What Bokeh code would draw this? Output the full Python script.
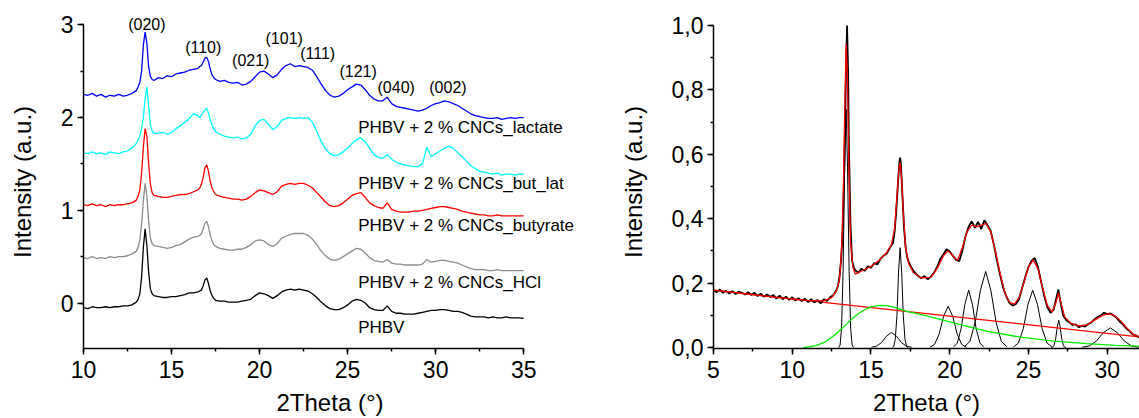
from bokeh.plotting import figure
from bokeh.models import (Range1d, SingleIntervalTicker, CustomJSTickFormatter,
                          ColumnDataSource, LabelSet)
from bokeh.layouts import row
from bokeh.embed import file_html
from bokeh.resources import INLINE
from bokeh.core.properties import value

FONT = "Liberation Sans"

# ---------------- left panel data ----------------
two_theta = [10.0, 10.25, 10.5, 10.75, 11.0, 11.25, 11.5, 11.75, 12.0, 12.25, 12.5, 12.75, 13.0,
             13.1, 13.2, 13.3, 13.4, 13.5, 13.6, 13.7, 13.8, 13.9, 14.0,
             14.25, 14.5, 14.75, 15.0, 15.25, 15.5, 15.75, 16.0, 16.25, 16.5,
             16.6, 16.7, 16.8, 16.9, 17.0, 17.1, 17.2, 17.3, 17.4, 17.5,
             17.75, 18.0, 18.25, 18.5, 18.75, 19.0, 19.25, 19.5, 19.75, 20.0,
             20.25, 20.5, 20.75, 21.0, 21.25, 21.5, 21.75, 22.0, 22.25, 22.5,
             22.75, 23.0, 23.25, 23.5, 23.75, 24.0, 24.25, 24.5, 24.75, 25.0,
             25.25, 25.5, 25.75, 26.0, 26.25, 26.5, 26.75, 27.0, 27.25, 27.5,
             27.75, 28.0, 28.25, 28.5, 28.75, 29.0, 29.25, 29.5, 29.75, 30.0,
             30.25, 30.5, 30.75, 31.0, 31.25, 31.5, 31.75, 32.0, 32.25, 32.5,
             32.75, 33.0, 33.25, 33.5, 33.75, 34.0, 34.25, 34.5, 34.75, 35.0]

lactate = [2.25, 2.24, 2.26, 2.23, 2.25, 2.22, 2.24, 2.23, 2.25, 2.23, 2.24, 2.26, 2.29,
           2.33, 2.38, 2.50, 2.78, 2.92, 2.80, 2.55, 2.44, 2.41, 2.40,
           2.43, 2.42, 2.45, 2.44, 2.47, 2.48, 2.49, 2.51, 2.52, 2.53,
           2.55, 2.56, 2.60, 2.64, 2.65, 2.60, 2.52, 2.46, 2.43, 2.41,
           2.39, 2.40, 2.38, 2.37, 2.38, 2.35, 2.36, 2.39, 2.44, 2.49,
           2.50, 2.47, 2.43, 2.46, 2.52, 2.56, 2.58, 2.55, 2.56, 2.55,
           2.54, 2.51, 2.44, 2.36, 2.29, 2.24, 2.22, 2.23, 2.26, 2.30,
           2.33, 2.36, 2.35, 2.30, 2.24, 2.20, 2.18, 2.18, 2.22, 2.15,
           2.12, 2.11, 2.10, 2.09, 2.08, 2.07, 2.08, 2.10, 2.13, 2.15,
           2.16, 2.18, 2.17, 2.15, 2.13, 2.10, 2.07, 2.04, 2.02, 2.01,
           2.00, 1.99, 1.99, 2.00, 1.98, 1.99, 2.00, 1.99, 2.00, 2.00]

but_lat = [1.62, 1.61, 1.63, 1.61, 1.62, 1.60, 1.63, 1.62, 1.61, 1.63, 1.64, 1.67, 1.72,
           1.76, 1.80, 1.88, 2.00, 2.20, 2.33, 2.12, 1.92, 1.85, 1.83,
           1.83, 1.84, 1.82, 1.84, 1.88, 1.91, 1.95, 1.99, 2.04, 2.02,
           2.00, 2.03, 2.06, 2.08, 2.10, 2.05, 1.97, 1.92, 1.88, 1.85,
           1.82, 1.80, 1.79, 1.78, 1.79, 1.77, 1.78, 1.82, 1.91, 1.97,
           1.98, 1.93, 1.87, 1.90, 1.97, 1.99, 2.00, 1.99, 2.00, 1.99,
           2.00, 1.95, 1.85, 1.74, 1.66, 1.61, 1.59, 1.60, 1.63, 1.67,
           1.72, 1.76, 1.78, 1.74, 1.67, 1.60, 1.57, 1.56, 1.60, 1.55,
           1.52, 1.50, 1.49, 1.48, 1.47, 1.47, 1.50, 1.68, 1.58, 1.61,
           1.64, 1.67, 1.69, 1.67, 1.62, 1.58, 1.53, 1.48, 1.45, 1.42,
           1.41, 1.40, 1.39, 1.40, 1.38, 1.39, 1.39, 1.38, 1.39, 1.39]

butyrate = [1.06, 1.05, 1.07, 1.05, 1.06, 1.04, 1.06, 1.05, 1.06, 1.06, 1.07, 1.08, 1.11,
            1.15, 1.22, 1.40, 1.68, 1.88, 1.80, 1.50, 1.28, 1.19, 1.16,
            1.15, 1.14, 1.14, 1.15, 1.16, 1.17, 1.17, 1.18, 1.20, 1.22,
            1.24, 1.28, 1.36, 1.46, 1.49, 1.42, 1.31, 1.24, 1.20, 1.17,
            1.15, 1.14, 1.13, 1.12, 1.12, 1.11, 1.12, 1.15, 1.19, 1.22,
            1.21, 1.19, 1.17, 1.20, 1.26, 1.28, 1.29, 1.28, 1.29, 1.29,
            1.27, 1.24, 1.19, 1.14, 1.09, 1.05, 1.04, 1.05, 1.08, 1.12,
            1.16, 1.18, 1.19, 1.14, 1.08, 1.05, 1.03, 1.02, 1.08, 1.01,
            0.99, 0.98, 0.98, 0.98, 0.99, 0.99, 1.00, 1.01, 1.02, 1.03,
            1.04, 1.04, 1.03, 1.02, 1.01, 0.99, 0.98, 0.97, 0.96, 0.95,
            0.95, 0.94, 0.94, 0.95, 0.94, 0.94, 0.94, 0.94, 0.94, 0.94]

hcl = [0.49, 0.48, 0.50, 0.48, 0.49, 0.48, 0.50, 0.49, 0.50, 0.50, 0.51, 0.53, 0.56,
       0.60, 0.68, 0.85, 1.10, 1.29, 1.15, 0.88, 0.70, 0.64, 0.62,
       0.61, 0.60, 0.59, 0.60, 0.62, 0.63, 0.66, 0.69, 0.71, 0.72,
       0.73, 0.75, 0.80, 0.86, 0.88, 0.82, 0.73, 0.67, 0.63, 0.61,
       0.59, 0.58, 0.57, 0.57, 0.58, 0.58, 0.60, 0.63, 0.67, 0.68,
       0.67, 0.63, 0.61, 0.64, 0.70, 0.72, 0.74, 0.75, 0.75, 0.75,
       0.73, 0.69, 0.63, 0.56, 0.51, 0.47, 0.46, 0.47, 0.50, 0.53,
       0.56, 0.59, 0.58, 0.54, 0.49, 0.46, 0.45, 0.44, 0.47, 0.43,
       0.42, 0.42, 0.41, 0.41, 0.41, 0.41, 0.42, 0.47, 0.44, 0.45,
       0.46, 0.46, 0.45, 0.44, 0.43, 0.41, 0.39, 0.37, 0.36, 0.36,
       0.36, 0.35, 0.35, 0.36, 0.35, 0.35, 0.35, 0.35, 0.35, 0.35]

phbv = [-0.05, -0.06, -0.04, -0.05, -0.05, -0.04, -0.05, -0.04, -0.04, -0.03, -0.03, -0.02, 0.01,
        0.04, 0.10, 0.28, 0.60, 0.80, 0.62, 0.33, 0.15, 0.10, 0.08,
        0.07, 0.06, 0.06, 0.07, 0.07, 0.08, 0.09, 0.11, 0.11, 0.12,
        0.13, 0.14, 0.19, 0.25, 0.27, 0.21, 0.13, 0.08, 0.05, 0.03,
        0.02, 0.02, 0.01, 0.01, 0.01, 0.02, 0.03, 0.04, 0.08, 0.11,
        0.10, 0.08, 0.05, 0.08, 0.12, 0.14, 0.15, 0.14, 0.15, 0.14,
        0.13, 0.10, 0.06, 0.01, -0.03, -0.06, -0.07, -0.07, -0.05, -0.02,
        0.02, 0.04, 0.03, 0.00, -0.05, -0.07, -0.08, -0.08, -0.03, -0.09,
        -0.11, -0.11, -0.12, -0.12, -0.12, -0.11, -0.10, -0.09, -0.08, -0.08,
        -0.07, -0.07, -0.08, -0.09, -0.09, -0.10, -0.12, -0.14, -0.15, -0.15,
        -0.15, -0.16, -0.15, -0.16, -0.16, -0.15, -0.16, -0.16, -0.16, -0.165]

series_names = ["PHBV", "PHBV + 2 % CNCs_HCl", "PHBV + 2 % CNCs_butyrate",
                "PHBV + 2 % CNCs_but_lat", "PHBV + 2 % CNCs_lactate"]
series_values = [phbv, hcl, butyrate, but_lat, lactate]
series_colors = ["#000000", "#8c8c8c", "#ff0000", "#00ffff", "#0000ff"]
name_x = [25.6, 25.6, 25.6, 25.6, 25.6]
name_y = [-0.26, 0.22, 0.84, 1.29, 1.89]

hkl = ["(020)", "(110)", "(021)", "(101)", "(111)", "(121)", "(040)", "(002)"]
hkl_x = [13.6, 16.8, 19.5, 21.4, 23.3, 25.6, 27.76, 30.7]
hkl_y = [3.0, 2.75, 2.61, 2.85, 2.69, 2.5, 2.32, 2.32]

# ---------------- right panel data ----------------
fit_data_x = [5.0, 5.2, 5.4, 5.6, 5.8, 6.0, 6.2, 6.4, 6.6, 6.8,
              7.0, 7.2, 7.4, 7.6, 7.8, 8.0, 8.2, 8.4, 8.6, 8.8,
              9.0, 9.2, 9.4, 9.6, 9.8, 10.0, 10.2, 10.4, 10.6, 10.8,
              11.0, 11.2, 11.4, 11.6, 11.8, 12.0, 12.2, 12.4, 12.6,
              12.8, 12.9, 13.0, 13.1, 13.2, 13.3, 13.4, 13.48, 13.55, 13.6, 13.7, 13.8, 13.9, 14.0,
              14.2, 14.4, 14.6, 14.8, 15.0, 15.2, 15.4, 15.6, 15.8, 16.0, 16.2, 16.4,
              16.5, 16.6, 16.7, 16.8, 16.85, 16.9, 17.0, 17.1, 17.2, 17.3, 17.4,
              17.6, 17.8, 18.0, 18.2, 18.4, 18.6, 18.8, 19.0, 19.2, 19.4,
              19.6, 19.8, 20.0, 20.2, 20.4, 20.6, 20.8, 21.0, 21.2, 21.4,
              21.6, 21.8, 22.0, 22.2, 22.4, 22.6, 22.8, 23.0, 23.2, 23.4,
              23.6, 23.8, 24.0, 24.2, 24.4, 24.6, 24.8, 25.0, 25.2, 25.4,
              25.6, 25.8, 26.0, 26.2, 26.4, 26.6, 26.8, 26.9, 27.0, 27.2,
              27.4, 27.6, 27.8, 28.0, 28.2, 28.4, 28.6, 28.8, 29.0, 29.2,
              29.4, 29.6, 29.8, 30.0, 30.2, 30.4, 30.6, 30.8, 31.0, 31.2,
              31.4, 31.6, 31.8, 32.0, 32.2]
fit_data_y = [0.178, 0.172, 0.180, 0.170, 0.176, 0.168, 0.175, 0.166, 0.174, 0.170,
              0.165, 0.172, 0.163, 0.170, 0.160, 0.167, 0.158, 0.165, 0.157, 0.163,
              0.152, 0.161, 0.150, 0.158, 0.148, 0.156, 0.146, 0.153, 0.144, 0.152,
              0.141, 0.150, 0.140, 0.148, 0.137, 0.150, 0.145, 0.156, 0.162,
              0.178, 0.190, 0.220, 0.270, 0.360, 0.550, 0.820, 1.000, 0.850, 0.620, 0.380, 0.270, 0.250, 0.240,
              0.232, 0.245, 0.238, 0.252, 0.248, 0.262, 0.258, 0.275, 0.285, 0.292, 0.310, 0.325,
              0.360, 0.420, 0.500, 0.575, 0.590, 0.570, 0.470, 0.370, 0.310, 0.280, 0.265,
              0.245, 0.232, 0.222, 0.215, 0.222, 0.212, 0.220, 0.232, 0.250, 0.275,
              0.290, 0.305, 0.298, 0.285, 0.272, 0.268, 0.300, 0.345, 0.375, 0.392,
              0.372, 0.390, 0.368, 0.395, 0.380, 0.362, 0.320, 0.270, 0.225, 0.185,
              0.158, 0.138, 0.130, 0.135, 0.150, 0.185, 0.220, 0.250, 0.270, 0.278,
              0.250, 0.205, 0.160, 0.125, 0.108, 0.118, 0.160, 0.180, 0.150, 0.100,
              0.085, 0.078, 0.070, 0.072, 0.063, 0.068, 0.065, 0.073, 0.078, 0.088,
              0.095, 0.100, 0.108, 0.104, 0.106, 0.100, 0.092, 0.080, 0.072, 0.060,
              0.052, 0.042, 0.038, 0.032, 0.030]

fit_x = [5.0, 7.0, 9.0, 11.0, 12.0, 12.5, 12.8, 13.0, 13.15, 13.25, 13.35, 13.42, 13.5, 13.6, 13.7,
         13.85, 14.0, 14.5, 15.0, 15.5, 16.0, 16.3, 16.5, 16.65, 16.78, 16.85, 16.95, 17.05, 17.2, 17.4,
         17.7, 18.2, 18.8, 19.2, 19.6, 19.9, 20.2, 20.5, 20.8, 21.1, 21.4, 21.7, 22.0, 22.3, 22.6,
         22.9, 23.2, 23.5, 23.8, 24.1, 24.4, 24.7, 25.0, 25.3, 25.6, 25.9, 26.2, 26.5, 26.75, 26.9,
         27.05, 27.3, 27.7, 28.2, 28.7, 29.2, 29.7, 30.1, 30.5, 30.9, 31.3, 31.7, 32.2]
fit_y = [0.178, 0.167, 0.156, 0.146, 0.145, 0.155, 0.175, 0.21, 0.32, 0.5, 0.78, 0.943, 0.85, 0.55, 0.33,
         0.25, 0.228, 0.24, 0.252, 0.27, 0.295, 0.32, 0.37, 0.47, 0.56, 0.575, 0.52, 0.42, 0.31, 0.26,
         0.232, 0.216, 0.218, 0.245, 0.285, 0.3, 0.285, 0.27, 0.31, 0.36, 0.38, 0.375, 0.38, 0.385, 0.36,
         0.3, 0.23, 0.17, 0.14, 0.135, 0.155, 0.2, 0.25, 0.272, 0.245, 0.185, 0.13, 0.11, 0.14, 0.17,
         0.14, 0.095, 0.075, 0.067, 0.07, 0.085, 0.1, 0.105, 0.098, 0.08, 0.058, 0.04, 0.03]

base_x = [5.0, 32.2]
base_y = [0.178, 0.032]

amorph_x = [10.7, 11.5, 12.0, 12.6, 13.0, 13.5, 14.0, 14.5, 15.0, 15.5, 16.0, 16.5, 17.2, 18.4,
            20.3, 22.4, 24.5, 26.6, 28.7, 30.5, 32.2]
amorph_y = [0.0, 0.006, 0.015, 0.035, 0.052, 0.075, 0.098, 0.115, 0.126, 0.131, 0.13, 0.125, 0.113, 0.1,
            0.076, 0.05, 0.032, 0.02, 0.012, 0.007, 0.004]

peak_xs = [
    [12.95, 13.04, 13.13, 13.23, 13.33, 13.42, 13.51, 13.61, 13.71, 13.80, 13.89],
    [15.03, 15.34, 15.66, 15.98, 16.3, 16.62, 16.94, 17.26, 17.57],
    [16.35, 16.44, 16.54, 16.65, 16.75, 16.85, 16.95, 17.05, 17.16, 17.26, 17.35],
    [18.75, 19.04, 19.33, 19.61, 19.9, 20.19, 20.47, 20.76, 21.05],
    [20.25, 20.48, 20.72, 20.96, 21.2, 21.44, 21.68, 21.92, 22.15],
    [20.94, 21.28, 21.61, 21.95, 22.28, 22.61, 22.95, 23.28, 23.62],
    [24.06, 24.36, 24.67, 24.97, 25.27, 25.57, 25.87, 26.18, 26.48],
    [26.45, 26.54, 26.63, 26.73, 26.83, 26.92, 27.01, 27.11, 27.21, 27.30, 27.39],
    [28.42, 28.86, 29.31, 29.75, 30.2, 30.65, 31.09, 31.54, 31.98],
]
peak_ys = [
    [0.0, 0.008, 0.06, 0.24, 0.56, 0.74, 0.56, 0.24, 0.06, 0.008, 0.0],
    [0.001, 0.004, 0.015, 0.035, 0.047, 0.035, 0.015, 0.004, 0.001],
    [0.0, 0.003, 0.025, 0.10, 0.234, 0.31, 0.234, 0.10, 0.025, 0.003, 0.0],
    [0.001, 0.010, 0.042, 0.097, 0.128, 0.097, 0.042, 0.010, 0.001],
    [0.002, 0.014, 0.058, 0.134, 0.178, 0.134, 0.058, 0.014, 0.002],
    [0.003, 0.019, 0.077, 0.178, 0.236, 0.178, 0.077, 0.019, 0.003],
    [0.002, 0.014, 0.058, 0.134, 0.178, 0.134, 0.058, 0.014, 0.002],
    [0.0, 0.001, 0.007, 0.028, 0.064, 0.085, 0.064, 0.028, 0.007, 0.001, 0.0],
    [0.001, 0.005, 0.020, 0.046, 0.061, 0.046, 0.020, 0.005, 0.001],
]


def style(p, xlabel, ylabel, y_label_standoff):
    p.grid.visible = False
    p.outline_line_color = None
    p.xaxis.axis_label = xlabel
    p.yaxis.axis_label = ylabel
    for ax in (p.xaxis[0], p.yaxis[0]):
        ax.axis_line_width = 1.5
        ax.axis_line_color = "#000000"
        ax.major_tick_line_width = 1.5
        ax.minor_tick_line_width = 1.5
        ax.major_tick_line_color = "#000000"
        ax.minor_tick_line_color = "#000000"
        ax.major_tick_out = 6
        ax.major_tick_in = 0
        ax.minor_tick_out = 3
        ax.minor_tick_in = 0
        ax.major_label_text_font = FONT
        ax.major_label_text_font_size = "23px"
        ax.major_label_text_color = "#000000"
        ax.major_label_standoff = 4
        ax.axis_label_text_font = FONT
        ax.axis_label_text_font_size = "24px"
        ax.axis_label_text_font_style = "normal"
        ax.axis_label_text_color = "#000000"
    p.xaxis[0].major_label_standoff = 6
    p.xaxis[0].axis_label_standoff = 8
    p.yaxis[0].axis_label_standoff = y_label_standoff


# Both frames share the same top (15 px) and bottom (69 px) borders because the row
# aligns them; the ranges are padded a little so the axes land where the original has them.

# ---------------- left figure ----------------
p1 = figure(width=613, height=418, x_range=Range1d(10, 38.0), y_range=Range1d(-0.49, 3.1),
            output_backend="svg", toolbar_location=None,
            min_border_left=83, min_border_right=37, min_border_top=15, min_border_bottom=69)
p1.xaxis.ticker = SingleIntervalTicker(interval=5, num_minor_ticks=2)
p1.yaxis.ticker = SingleIntervalTicker(interval=1, num_minor_ticks=2)
p1.xaxis.bounds = (10, 35)
p1.yaxis.bounds = (-0.5, 3)
style(p1, "2Theta (°)", "Intensity (a.u.)", 22)

for vals, col in zip(series_values, series_colors):
    p1.line(two_theta, vals, line_color=col, line_width=1.3)

p1.add_layout(LabelSet(x="x", y="y", text="t",
                       source=ColumnDataSource(dict(x=name_x, y=name_y, t=series_names)),
                       text_font=value(FONT), text_font_size="17px",
                       text_align="left", text_baseline="middle", text_color="#000000"))
p1.add_layout(LabelSet(x="x", y="y", text="t",
                       source=ColumnDataSource(dict(x=hkl_x, y=hkl_y, t=hkl)),
                       text_font=value(FONT), text_font_size="16px",
                       text_align="center", text_baseline="middle", text_color="#000000"))

# ---------------- right figure ----------------
p2 = figure(width=526, height=418, x_range=Range1d(5, 32.05), y_range=Range1d(-0.003, 1.031),
            output_backend="svg", toolbar_location=None,
            min_border_left=100, min_border_right=0, min_border_top=15, min_border_bottom=69)
p2.xaxis.ticker = SingleIntervalTicker(interval=5, num_minor_ticks=2)
p2.yaxis.ticker = SingleIntervalTicker(interval=0.2, num_minor_ticks=2)
p2.yaxis.bounds = (0, 1.0)
p2.yaxis.formatter = CustomJSTickFormatter(code="return tick.toFixed(1).replace('.', ',');")
style(p2, "2Theta (°)", "Intensity (a.u.)", 22)

p2.multi_line(peak_xs, peak_ys, line_color="#000000", line_width=1.0)
p2.line(base_x, base_y, line_color="#ff0000", line_width=1.3)
p2.line(amorph_x, amorph_y, line_color="#00ee00", line_width=1.3)
p2.line(fit_data_x, fit_data_y, line_color="#000000", line_width=1.8)
p2.line(fit_x, fit_y, line_color="#ff0000", line_width=1.3)

layout = row(p1, p2)
open("out.html", "w").write(file_html(layout, INLINE))
